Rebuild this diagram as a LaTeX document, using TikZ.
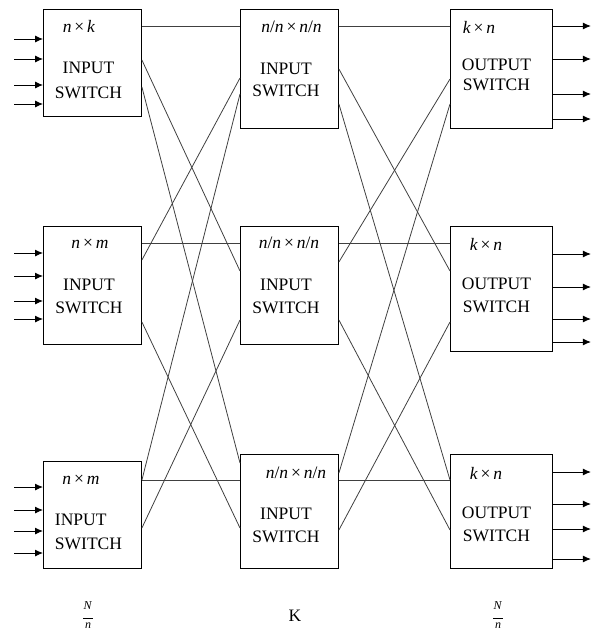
\documentclass[tikz,border=0pt]{standalone}
\usepackage{fontspec}
\setmainfont{Liberation Serif}
\usetikzlibrary{arrows.meta}

\begin{document}
\begin{tikzpicture}[x=1pt,y=-1pt,>={Latex[length=8pt,width=7pt]},line width=0.9pt,font=\fontsize{17.5}{21}\selectfont]
  \tikzstyle{sw}=[draw,anchor=north west,inner sep=0pt,minimum width=98pt]
  \tikzstyle{lnk}=[draw=black!75,line width=0.8pt]
  \tikzstyle{txt}=[inner sep=0pt,align=center]
  \useasboundingbox (0,0) rectangle (595,632);

  % the three stages
  \node[sw,minimum height=107pt] (i1) at (43,9) {};
  \node[sw,minimum height=118pt] (i2) at (43,226) {};
  \node[sw,minimum height=107pt] (i3) at (43,461) {};
  \node[sw,minimum height=119pt] (m1) at (240,9) {};
  \node[sw,minimum height=118pt] (m2) at (240,226) {};
  \node[sw,minimum height=114pt] (m3) at (240,454) {};
  \node[sw,minimum height=119pt,minimum width=102pt] (o1) at (450,9) {};
  \node[sw,minimum height=125pt,minimum width=102pt] (o2) at (450,226) {};
  \node[sw,minimum height=114pt,minimum width=102pt] (o3) at (450,454) {};

  % texts in the boxes
  \node[txt] (i1d) at (79,26) {\textit{n}\,×\,\textit{k}};
  \node[txt] (i1t) at (88.5,80) {INPUT\\[4pt]SWITCH};
  \node[txt] (i2d) at (90,244) {\textit{n}\,×\,\textit{m}};
  \node[txt] (i2t) at (89,296) {INPUT\\[2pt]SWITCH};
  \node[txt] (i3d) at (81,480) {\textit{n}\,×\,\textit{m}};
  \node[txt,align=left] (i3t) at (88.5,531.5) {INPUT\\[3pt]SWITCH};
  \node[txt] (m1d) at (291.5,27) {\textit{n}/\textit{n}\,×\,\textit{n}/\textit{n}};
  \node[txt] (m1t) at (286,79.5) {INPUT\\[1pt]SWITCH};
  \node[txt] (m2d) at (289,243) {\textit{n}/\textit{n}\,×\,\textit{n}/\textit{n}};
  \node[txt] (m2t) at (286,296) {INPUT\\[2pt]SWITCH};
  \node[txt] (m3d) at (296,473) {\textit{n}/\textit{n}\,×\,\textit{n}/\textit{n}};
  \node[txt] (m3t) at (286,525) {INPUT\\[2pt]SWITCH};
  \node[txt] (o1d) at (479,27) {\textit{k}\,×\,\textit{n}};
  \node[txt] (o1t) at (496.5,74.5) {OUTPUT\\[-1pt]SWITCH};
  \node[txt] (o2d) at (486,244) {\textit{k}\,×\,\textit{n}};
  \node[txt] (o2t) at (496.5,295) {OUTPUT\\[2pt]SWITCH};
  \node[txt] (o3d) at (486,473) {\textit{k}\,×\,\textit{n}};
  \node[txt] (o3t) at (496.5,524.5) {OUTPUT\\[2pt]SWITCH};

  % stage sizes
  \node[txt,font=\fontsize{12}{13}\selectfont] (f1) at (88,615) {\textit{N}\\[-4pt]\rule{10pt}{0.7pt}\\[-3pt]\textit{n}};
  \node[txt] (kk) at (295,616) {K};
  \node[txt,font=\fontsize{12}{13}\selectfont] (f3) at (498,615) {\textit{N}\\[-4pt]\rule{10pt}{0.7pt}\\[-3pt]\textit{n}};

  % inputs and outputs
  \foreach \y in {39,59,85,104} \draw[->] (i1.west |- 0,\y) ++(-29,0) -- (i1.west |- 0,\y);
  \foreach \y in {253,276,301,319} \draw[->] (i2.west |- 0,\y) ++(-29,0) -- (i2.west |- 0,\y);
  \foreach \y in {487,510,531,553} \draw[->] (i3.west |- 0,\y) ++(-29,0) -- (i3.west |- 0,\y);
  \foreach \y in {26,59,94,119} \draw[->] (o1.east |- 0,\y) -- ++(38,0);
  \foreach \y in {254,287,319,342} \draw[->] (o2.east |- 0,\y) -- ++(38,0);
  \foreach \y in {472,504,529,559} \draw[->] (o3.east |- 0,\y) -- ++(38,0);

  % links between stages
  \foreach \a/\ya/\b/\yb in {i1/26/m1/26, i1/60/m2/271, i1/87/m3/463,
      i2/243/m2/243, i2/260/m1/78, i2/322/m3/528,
      i3/480/m3/480, i3/480/m1/94, i3/528/m2/320,
      m1/26/o1/26, m1/69/o2/271, m1/104/o3/480,
      m2/243/o2/243, m2/262/o1/79, m2/320/o3/530,
      m3/480/o3/480, m3/473/o1/104, m3/530/o2/322}
    \draw[lnk] (\a.east |- 0,\ya) -- (\b.west |- 0,\yb);
\end{tikzpicture}
\end{document}
